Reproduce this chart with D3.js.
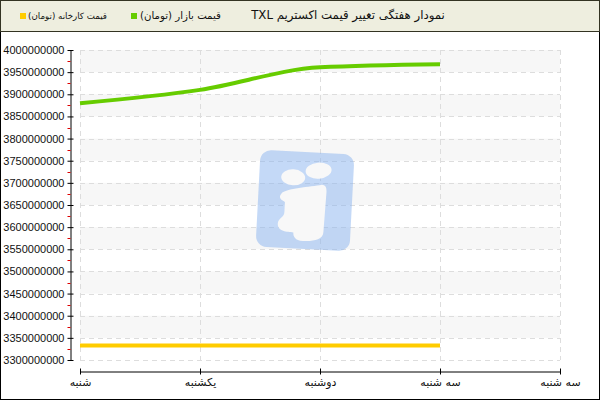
<!DOCTYPE html>
<html>
<head>
<meta charset="utf-8">
<style>
  body { margin: 0; background: #fff; }
  svg { display: block; }
</style>
</head>
<body>
<svg width="600" height="400"></svg>
<script src="https://cdn.jsdelivr.net/npm/d3@7"></script>
<script>

var days = ["شنبه", "یکشنبه", "دوشنبه", "سه شنبه", "سه شنبه"];
var marketPrice = [3880000000, 3910000000, 3961000000, 3968000000];
var factoryPrice = [3333000000, 3333000000, 3333000000, 3333000000];
var yTicks = d3.range(3300000000, 4000000001, 50000000);
var chartTitle = "نمودار هفتگی تغییر قیمت اکستریم TXL";
var legendNames = ["قیمت بازار (تومان)", "قیمت کارخانه (تومان)"];

var svg = d3.select("svg"),
  plotLeft = 80, plotRight = 560, plotTop = 50, plotBottom = 360;

var x = d3.scaleLinear().domain([0, days.length - 1]).range([plotLeft, plotRight]),
  y = d3.scaleLinear().domain([3300000000, 4000000000]).range([plotBottom, plotTop]);

var persian = "'DejaVu Sans', sans-serif";

// frame + header
svg.append("rect").attr("x", 0.5).attr("y", 0.5).attr("width", 599).attr("height", 399)
  .attr("fill", "#fff").attr("stroke", "#000");
svg.append("rect").attr("x", 0.5).attr("y", 0.5).attr("width", 599).attr("height", 31)
  .attr("fill", "#eeeedf").attr("stroke", "#333322");

// header text, centred and sized to the span it has in the picture
function headerText(str, x0, x1) {
  var t = svg.append("text")
    .attr("x", (x0 + x1) / 2).attr("y", 19)
    .attr("direction", "rtl")
    .attr("text-anchor", "middle")
    .style("font-family", persian).style("font-size", "11px").attr("fill", "#111")
    .text(str);
  var w = t.node().getComputedTextLength();
  t.style("font-size", Math.min(13, 11 * (x1 - x0) / w) + "px");
  return t;
}

headerText(chartTitle, 251, 445);

var legend = [
  {name: legendNames[0], color: "#66cc00", sq: 131, x0: 140, x1: 221},
  {name: legendNames[1], color: "#ffcc00", sq: 20, x0: 28, x1: 107}
];
legend.forEach(function(d) {
  svg.append("rect").attr("x", d.sq).attr("y", 13).attr("width", 6).attr("height", 6)
    .attr("fill", d.color);
  headerText(d.name, d.x0, d.x1);
});

// alternating bands
var g = svg.append("g");
for (var i = 0; i < yTicks.length - 1; i++) {
  if ((yTicks.length - 2 - i) % 2 == 0) {
    g.append("rect")
      .attr("x", plotLeft).attr("width", plotRight - plotLeft)
      .attr("y", y(yTicks[i + 1])).attr("height", y(yTicks[i]) - y(yTicks[i + 1]))
      .attr("fill", "#f7f7f7");
  }
}

// grid
g.selectAll(".hgrid").data(yTicks).enter().append("line")
  .attr("x1", plotLeft).attr("x2", plotRight)
  .attr("y1", function(d) { return Math.round(y(d)) + 0.5; })
  .attr("y2", function(d) { return Math.round(y(d)) + 0.5; })
  .attr("stroke", "#dddddd").attr("stroke-dasharray", "5,4");
g.selectAll(".vgrid").data(d3.range(days.length)).enter().append("line")
  .attr("x1", function(d) { return x(d) + 0.5; }).attr("x2", function(d) { return x(d) + 0.5; })
  .attr("y1", plotTop).attr("y2", plotBottom)
  .attr("stroke", "#dddddd").attr("stroke-dasharray", "5,4");

// watermark logo
var logo = svg.append("g").attr("transform", "translate(305,201) rotate(3)");
logo.append("rect").attr("x", -47).attr("y", -49).attr("width", 94).attr("height", 97)
  .attr("rx", 11).attr("fill", "#8ab4f0").attr("opacity", 0.5);
logo.append("ellipse").attr("cx", 12).attr("cy", -31).attr("rx", 13).attr("ry", 8)
  .attr("transform", "rotate(-8,12,-31)").attr("fill", "#f8f8f8");
logo.append("ellipse").attr("cx", -13).attr("cy", -23).attr("rx", 12).attr("ry", 8)
  .attr("fill", "#f8f8f8");
logo.append("path")
  .attr("d", "M-24,-6 C-20,-12 5,-14 16,-17 C20,-17 21,-14 21,-10 L20,30 C20,38 10,40 0,40 C-8,40 -10,36 -10,32 C-16,32 -26,32 -26,24 C-26,18 -20,18 -20,12 L-20,2 C-24,0 -27,-2 -24,-6 Z")
  .attr("fill", "#f8f8f8");

// lines
var line = d3.line()
  .curve(d3.curveMonotoneX)
  .x(function(d, i) { return x(i); })
  .y(function(d) { return y(d); });

svg.append("path").datum(factoryPrice)
  .attr("d", line).attr("fill", "none")
  .attr("stroke", "#ffcc00").attr("stroke-width", 4);
svg.append("path").datum(marketPrice)
  .attr("d", line).attr("fill", "none")
  .attr("stroke", "#66cc00").attr("stroke-width", 4);

// y axis
var yAxis = svg.append("g").attr("transform", "translate(70.5,0)")
  .call(d3.axisLeft(y).tickValues(yTicks).tickFormat(d3.format("d")).tickSizeOuter(0).tickSizeInner(3).tickPadding(3));
yAxis.select(".domain").attr("stroke", "#000");
yAxis.selectAll(".tick line").attr("x2", 3).attr("x1", -3).attr("stroke", "#000");
yAxis.selectAll(".tick text")
  .style("font-family", "'Liberation Sans', Arial, sans-serif").style("font-size", "11px").attr("fill", "#111");
yAxis.selectAll(".minor").data(yTicks.slice(1)).enter().append("line")
  .attr("x1", -3).attr("x2", 0)
  .attr("y1", function(d) { return Math.round(y(d - 25000000)) + 0.5; })
  .attr("y2", function(d) { return Math.round(y(d - 25000000)) + 0.5; })
  .attr("stroke", "#dd0000");

// x axis
var xAxis = svg.append("g").attr("transform", "translate(0,371.5)")
  .call(d3.axisBottom(x).tickValues(d3.range(days.length))
    .tickFormat(function(i) { return days[i]; }).tickSizeOuter(0).tickSizeInner(3).tickPadding(4));
xAxis.select(".domain").attr("stroke", "#000");
xAxis.selectAll(".tick line").attr("y1", -3).attr("y2", 3).attr("stroke", "#000");
xAxis.selectAll(".tick text")
  .style("font-family", persian).style("font-size", "11px").attr("fill", "#111");

</script>
</body>
</html>
